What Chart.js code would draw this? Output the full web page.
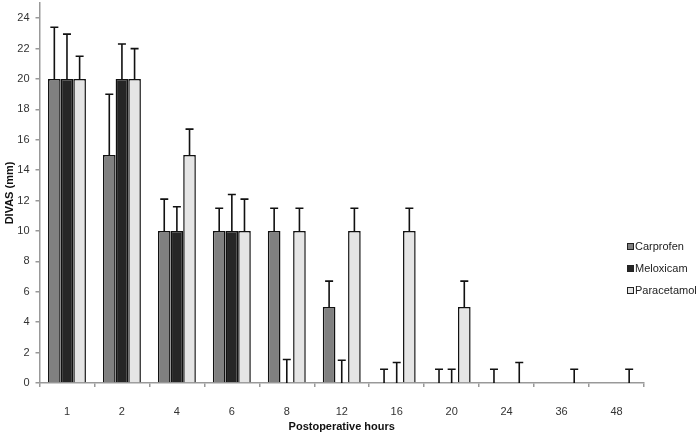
<!DOCTYPE html>
<html>
<head>
<meta charset="utf-8">
<script src="https://cdn.jsdelivr.net/npm/chart.js@4/dist/chart.umd.min.js"></script>
<style>
  html, body { margin: 0; padding: 0; background: #fff; }
  #wrap { position: relative; width: 700px; height: 438px; }
  #legend { position: absolute; left: 627px; top: 238px; font-family: "Liberation Sans", Arial, sans-serif; font-size: 11px; color: #222; }
  #legend div { height: 22px; line-height: 16px; white-space: nowrap; }
  #legend span.box { display: inline-block; width: 5px; height: 5px; border: 1px solid #222; margin-right: 1px; }
</style>
</head>
<body>
<div id="wrap">
  <canvas id="c" width="700" height="438"></canvas>
  <div id="legend"></div>
</div>
<script>
const categories = ["1", "2", "4", "6", "8", "12", "16", "20", "24", "36", "48"];
const seriesNames = ["Carprofen", "Meloxicam", "Paracetamol"];
const carprofen   = [20, 15, 10, 10, 10, 5, 0, 0, 0, 0, 0];
const meloxicam   = [20, 20, 10, 10, 0, 0, 0, 0, 0, 0, 0];
const paracetamol = [20, 20, 15, 10, 10, 10, 10, 5, 0, 0, 0];
// upper error bar lengths (mm), null = no bar
const carprofenErr   = [3.4, 4.0, 2.1, 1.5, 1.5, 1.7, 0.9, 0.9, 0.9, null, null];
const meloxicamErr   = [2.95, 2.3, 1.6, 2.4, 1.55, 1.5, 1.35, 0.9, null, null, null];
const paracetamolErr = [1.5, 2.0, 1.7, 2.1, 1.5, 1.5, 1.5, 1.7, 1.35, 0.9, 0.9];
const yTicks = [0, 2, 4, 6, 8, 10, 12, 14, 16, 18, 20, 22, 24];
const colors = ["#808080", "#262626", "#e5e5e5"];

const errorBars = {
  id: 'errorBars',
  afterDatasetsDraw(chart) {
    const ctx = chart.ctx, ys = chart.scales.y;
    ctx.save();
    ctx.strokeStyle = '#111';
    ctx.lineWidth = 1.6;
    chart.data.datasets.forEach((ds, di) => {
      const meta = chart.getDatasetMeta(di);
      meta.data.forEach((bar, i) => {
        const e = ds.errors[i];
        if (e == null) return;
        const v = ds.data[i];
        const y0 = ys.getPixelForValue(v);
        const y1 = ys.getPixelForValue(v + e);
        const x = bar.x;
        ctx.beginPath();
        ctx.moveTo(x, y0);
        ctx.lineTo(x, y1);
        ctx.moveTo(x - 4, y1);
        ctx.lineTo(x + 4, y1);
        ctx.stroke();
      });
    });
    ctx.restore();
  }
};

const datasets = [carprofen, meloxicam, paracetamol].map((d, k) => ({
  label: seriesNames[k],
  data: d,
  errors: [carprofenErr, meloxicamErr, paracetamolErr][k],
  backgroundColor: colors[k],
  borderColor: '#111',
  borderWidth: 1.5,
  borderSkipped: 'bottom',
  categoryPercentage: 0.69,
  barPercentage: 1.0
}));

const font = { family: '"Liberation Sans", Arial, sans-serif', size: 11 };

new Chart(document.getElementById('c'), {
  type: 'bar',
  data: { labels: categories, datasets },
  plugins: [errorBars],
  options: {
    responsive: false,
    animation: false,
    layout: { padding: { top: 3, right: 56, left: 0, bottom: 0 } },
    plugins: { legend: { display: false }, tooltip: { enabled: false } },
    scales: {
      x: {
        grid: { drawOnChartArea: false, drawTicks: true, tickLength: 4, color: '#999', offset: true, lineWidth: 1.5 },
        border: { color: '#999', width: 1.5 },
        ticks: { color: '#333', font, padding: 18, maxRotation: 0 },
        title: { display: true, text: 'Postoperative hours', color: '#111', font: { ...font, weight: 'bold' }, padding: { top: 4, bottom: 4 } },
        afterFit(s) { s.height = 55; s.paddingLeft = 0; s.paddingRight = 0; }
      },
      y: {
        min: 0, max: 25,
        grid: { drawOnChartArea: false, drawTicks: true, tickLength: 4, color: '#999', lineWidth: 1.5 },
        border: { color: '#999', width: 1.5 },
        ticks: { color: '#333', font, padding: 6, stepSize: 2, includeBounds: false },
        afterBuildTicks(s) { s.ticks = yTicks.map(v => ({ value: v })); },
        title: { display: true, text: 'DIVAS (mm)', color: '#111', font: { ...font, weight: 'bold' }, padding: { top: 3, bottom: 2 } },
        afterFit(s) { s.width = 39.5; s.paddingTop = 0; s.paddingBottom = 0; }
      }
    }
  }
});

const lg = document.getElementById('legend');
seriesNames.forEach((n, k) => {
  const row = document.createElement('div');
  const b = document.createElement('span');
  b.className = 'box';
  b.style.background = colors[k];
  row.appendChild(b);
  row.appendChild(document.createTextNode(n));
  lg.appendChild(row);
});
</script>
</body>
</html>
